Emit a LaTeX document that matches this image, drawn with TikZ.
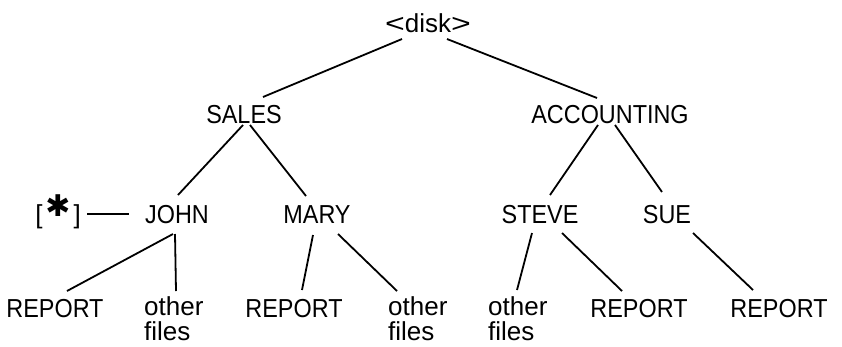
\documentclass[tikz,border=0pt]{standalone}
\usepackage{fontspec}
\setmainfont{Liberation Sans}
\newfontfamily\capsfont[FakeStretch=0.9]{Liberation Sans}
\newfontfamily\symfont{DejaVu Sans}
\usetikzlibrary{calc}
\begin{document}
\begin{tikzpicture}[x=1pt,y=-1pt,
  lbl/.style={inner sep=0pt,anchor=base,font=\fontsize{26}{28}\selectfont},
  caplbl/.style={lbl,font=\fontsize{26}{28}\selectfont\capsfont},
  multi/.style={inner sep=0pt,anchor=base west,align=left,font=\fontsize{26}{25}\selectfont},
  edge/.style={line width=1.8pt}]
\useasboundingbox[fill=white] (0,0) rectangle (842,346);
% nodes
\node[lbl] (disk) at (428,32) {\scalebox{1.3}[1]{<}disk\scalebox{1.3}[1]{>}};
\node[caplbl] (sales) at (244,123) {SALES};
\node[caplbl] (acct) at (610,123) {ACCOUNTING};
\node[caplbl] (john) at (177,223) {JOHN};
\node[caplbl] (mary) at (317,223) {MARY};
\node[caplbl] (steve) at (540,223) {STEVE};
\node[caplbl] (sue) at (667,223) {SUE};
\node[lbl] (star) at (58,223) {[\hspace{3pt}\raisebox{7pt}{\scalebox{1.15}{\symfont\bfseries ✱}}\hspace{3pt}]};
\node[caplbl] (rep1) at (55,317) {REPORT};
\node[multi] (oth1) at (144,340) {other\\files};
\node[caplbl] (rep2) at (294,317) {REPORT};
\node[multi] (oth2) at (388,340) {other\\files};
\node[multi] (oth3) at (488,340) {other\\files};
\node[caplbl] (rep3) at (639,317) {REPORT};
\node[caplbl] (rep4) at (779,317) {REPORT};
% connectors
\draw[edge] ($(disk.base)+(-26,7)$) -- ($(sales.base)+(19,-26)$);
\draw[edge] ($(disk.base)+(19,7)$) -- ($(acct.base)+(-13,-25)$);
\draw[edge] ($(sales.base)+(-1,2)$) -- ($(john.base)+(1,-28)$);
\draw[edge] ($(sales.base)+(6,2)$) -- ($(mary.base)+(-11,-27)$);
\draw[edge] ($(acct.base)+(-12,2)$) -- ($(steve.base)+(10,-28)$);
\draw[edge] ($(acct.base)+(5,2)$) -- ($(sue.base)+(-5,-31)$);
\draw[edge] ($(john.base)+(-4,11)$) -- ($(rep1.base)+(12,-26)$);
\draw[edge] ($(john.base)+(-2,11)$) -- ($(oth1.base west)+(32,-49)$);
\draw[edge] ($(mary.base)+(-4,12)$) -- ($(rep2.base)+(8,-27)$);
\draw[edge] ($(mary.base)+(21,11)$) -- ($(oth2.base west)+(9,-49)$);
\draw[edge] ($(steve.base)+(-8,10)$) -- ($(oth3.base west)+(29,-50)$);
\draw[edge] ($(steve.base)+(22,10)$) -- ($(rep3.base)+(-17,-26)$);
\draw[edge] ($(sue.base)+(26,10)$) -- ($(rep4.base)+(-26,-27)$);
\draw[edge] ($(star.base)+(29,-9)$) -- ($(john.base)+(-48,-9)$);
\end{tikzpicture}
\end{document}
